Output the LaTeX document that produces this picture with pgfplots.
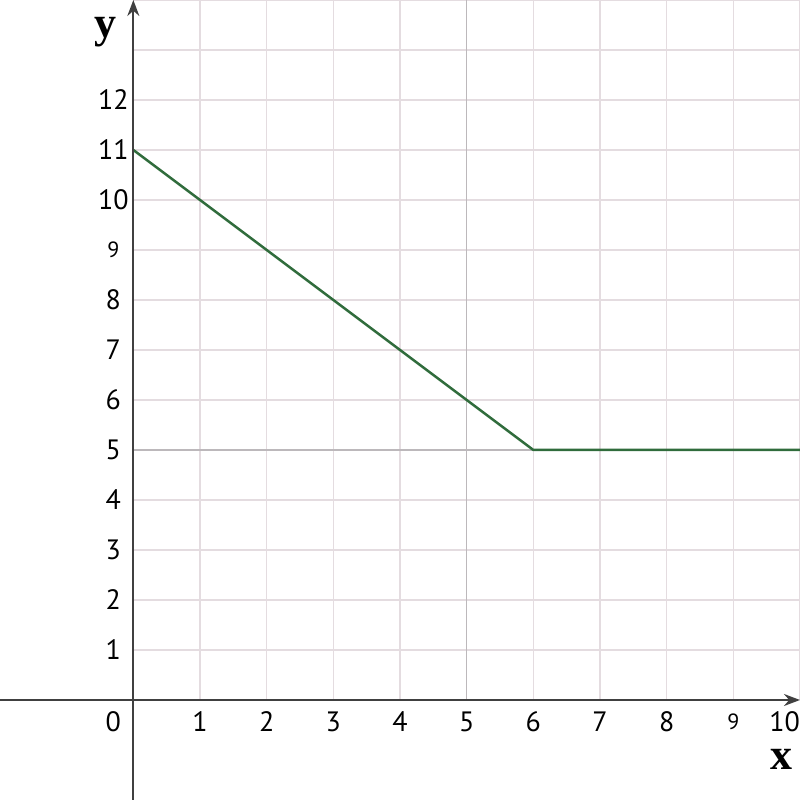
\documentclass[border=0pt]{standalone}
\usepackage{fontspec}
\setmainfont{PT Sans}
\newfontfamily\labelfont{Liberation Serif}
\usepackage{pgfplots}
\pgfplotsset{compat=1.18}
\usetikzlibrary{arrows.meta}

\definecolor{gridlight}{RGB}{228,220,224}
\definecolor{griddark}{RGB}{188,184,187}
\definecolor{axisgray}{RGB}{64,64,64}
\definecolor{linegreen}{RGB}{48,108,60}

\begin{document}
\begin{tikzpicture}
\begin{axis}[
  scale only axis,
  width=400pt, height=400pt,
  xmin=-2, xmax=10, ymin=-2, ymax=14,
  axis lines=middle,
  axis on top,
  axis line style={axisgray, line width=1pt, -{Stealth[length=8pt,width=6pt]}},
  major tick length=0pt,
  xtick={1,...,10},
  ytick={1,...,12},
  xticklabels={1,2,3,4,5,6,7,8,{\fontsize{11}{13}\selectfont 9},\llap{10}},
  yticklabels={1,2,3,4,5,6,7,8,{\fontsize{11}{13}\selectfont 9},10,11,12},
  tick label style={font=\fontsize{14}{16}\selectfont, text=black, inner sep=0pt},
  xticklabel style={anchor=center, yshift=-11pt},
  yticklabel style={anchor=center, xshift=-10pt},
]
  % grid, first quadrant only
  \pgfplotsinvokeforeach{1,2,3,4,6,7,8,9,10}{
    \draw[gridlight, line width=0.7pt] (axis cs:#1,0) -- (axis cs:#1,14);
  }
  \pgfplotsinvokeforeach{1,2,3,4,6,7,8,9,10,11,12,13,14}{
    \draw[gridlight, line width=0.7pt] (axis cs:0,#1) -- (axis cs:10,#1);
  }
  \draw[griddark, line width=0.7pt] (axis cs:5,0) -- (axis cs:5,14);
  \draw[griddark, line width=0.7pt] (axis cs:0,5) -- (axis cs:10,5);

  \addplot[linegreen, line width=1.25pt] coordinates {(0,11) (6,5) (10,5)};

  \node[anchor=center, inner sep=0pt, font=\fontsize{14}{16}\selectfont] at (axis cs:-0.3,-0.44) {0};
  \node[anchor=base, inner sep=0pt, font=\labelfont\bfseries\fontsize{22}{24}\selectfont] at (axis cs:-0.425,13.24) {y};
  \node[anchor=base, inner sep=0pt, font=\labelfont\bfseries\fontsize{22}{24}\selectfont] at (axis cs:9.73,-1.4) {x};

  \coordinate (sw) at (axis cs:-2,-2);
  \coordinate (ne) at (axis cs:10,14);
\end{axis}
\pgfresetboundingbox
\path[use as bounding box] (sw) rectangle (ne);
\end{tikzpicture}
\end{document}
